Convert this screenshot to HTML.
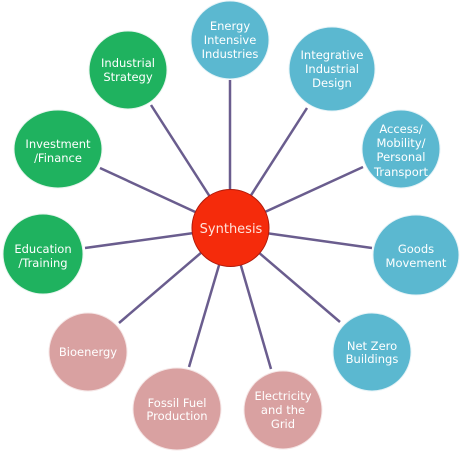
<!DOCTYPE html>
<html><head><meta charset="utf-8"><style>
html,body{margin:0;padding:0;background:#fff;width:463px;height:453px;overflow:hidden}
svg text{font-family:"DejaVu Sans","Liberation Sans",sans-serif;font-size:11.5px;fill:#fff;text-anchor:middle}
</style></head><body>
<svg width="463" height="453" viewBox="0 0 463 453" xmlns="http://www.w3.org/2000/svg">
<g stroke="#6a5d8e" stroke-width="2.5">
<line x1="230" y1="228" x2="230" y2="80"/>
<line x1="230" y1="228" x2="151" y2="105"/>
<line x1="230" y1="228" x2="307" y2="108"/>
<line x1="230" y1="228" x2="363" y2="167"/>
<line x1="230" y1="228" x2="100" y2="168"/>
<line x1="230" y1="228" x2="85" y2="248"/>
<line x1="230" y1="228" x2="372" y2="248"/>
<line x1="230" y1="228" x2="340" y2="322"/>
<line x1="230" y1="228" x2="119" y2="323"/>
<line x1="230" y1="228" x2="189" y2="367"/>
<line x1="230" y1="228" x2="271" y2="369"/>
</g>
<g stroke="#e8f4ee" stroke-width="1">
<circle cx="128" cy="70" r="39" fill="#1fb25f"/>
<ellipse cx="58" cy="149" rx="44" ry="39" fill="#1fb25f"/>
<circle cx="43" cy="254" r="40" fill="#1fb25f"/>
</g>
<g stroke="#e6f3f7" stroke-width="1">
<circle cx="230" cy="40" r="39" fill="#5bb8d0"/>
<ellipse cx="332" cy="69" rx="43" ry="42" fill="#5bb8d0"/>
<circle cx="401" cy="149" r="39" fill="#5bb8d0"/>
<ellipse cx="416" cy="255" rx="43" ry="40" fill="#5bb8d0"/>
<circle cx="372" cy="352" r="39" fill="#5bb8d0"/>
</g>
<g stroke="#f5e6e6" stroke-width="1">
<circle cx="88" cy="352" r="39" fill="#d9a1a1"/>
<ellipse cx="177" cy="409" rx="44" ry="41" fill="#d9a1a1"/>
<circle cx="283" cy="410" r="39" fill="#d9a1a1"/>
</g>
<circle cx="230.5" cy="228" r="38.5" fill="#f52b0b" stroke="#b01a0a" stroke-width="1"/>
<text x="231" y="233" style="font-size:13px;fill:#ffe4dc">Synthesis</text>
<text x="230" y="30">Energy</text><text x="230" y="44">Intensive</text><text x="230" y="58">Industries</text>
<text x="128" y="67">Industrial</text><text x="128" y="81">Strategy</text>
<text x="332" y="59">Integrative</text><text x="332" y="73">Industrial</text><text x="332" y="87">Design</text>
<text x="401" y="133">Access/</text><text x="401" y="147">Mobility/</text><text x="401" y="161">Personal</text><text x="401" y="176">Transport</text>
<text x="58" y="148">Investment</text><text x="58" y="162">/Finance</text>
<text x="43" y="253">Education</text><text x="43" y="267">/Training</text>
<text x="416" y="253">Goods</text><text x="416" y="267">Movement</text>
<text x="372" y="350">Net Zero</text><text x="372" y="363">Buildings</text>
<text x="88" y="356">Bioenergy</text>
<text x="177" y="407">Fossil Fuel</text><text x="177" y="420">Production</text>
<text x="283" y="400">Electricity</text><text x="283" y="414">and the</text><text x="283" y="428">Grid</text>
</svg>
</body></html>
